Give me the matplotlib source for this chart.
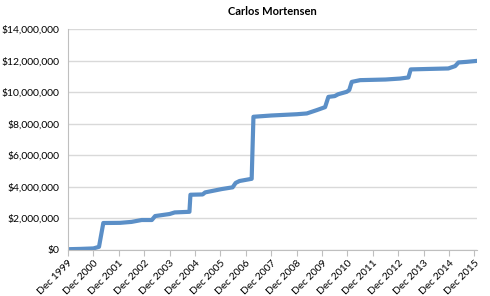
import matplotlib.pyplot as plt
from matplotlib.ticker import FuncFormatter

# years since Dec 1999, cumulative earnings in USD
years = [0.0, 0.5, 1.0, 1.22, 1.39, 2.05, 2.5, 2.9, 3.3, 3.43, 4.0, 4.2, 4.78,
         4.82, 5.3, 5.4, 6.05, 6.48, 6.6, 6.75, 7.23, 7.3, 8.0, 9.0, 9.4,
         9.79, 10.12, 10.25, 10.5, 10.64, 10.97, 11.07, 11.17, 11.5, 12.5,
         13.07, 13.4, 13.49, 14.2, 14.97, 15.24, 15.37, 15.7, 16.1]
earnings = [0.05e6, 0.07e6, 0.1e6, 0.2e6, 1.71e6, 1.72e6, 1.78e6, 1.9e6,
            1.9e6, 2.15e6, 2.28e6, 2.38e6, 2.42e6, 3.5e6, 3.52e6, 3.65e6,
            3.86e6, 3.97e6, 4.25e6, 4.37e6, 4.51e6, 8.44e6, 8.52e6, 8.6e6,
            8.65e6, 8.86e6, 9.05e6, 9.7e6, 9.75e6, 9.87e6, 10.02e6, 10.13e6,
            10.65e6, 10.76e6, 10.8e6, 10.86e6, 10.93e6, 11.44e6, 11.47e6,
            11.5e6, 11.65e6, 11.88e6, 11.92e6, 11.98e6]
tick_labels = [f"Dec {y}" for y in range(1999, 2016)]

plt.rcParams["font.family"] = ["Lato", "DejaVu Sans"]

fig = plt.figure(figsize=(4.9, 2.96), dpi=100)
ax = fig.add_axes([68 / 490, 46 / 296, 409 / 490, 221 / 296])

ax.plot(years, earnings, color="#5b8fc7", lw=3, solid_joinstyle="round")

ax.set_xlim(0, 16.1)
ax.set_ylim(0, 14e6)
ax.set_yticks([i * 2e6 for i in range(8)])
ax.yaxis.set_major_formatter(FuncFormatter(lambda v, p: f"${v:,.0f}"))
ax.set_xticks(range(len(tick_labels)))
ax.set_xticklabels(tick_labels, rotation=45, ha="right", rotation_mode="anchor")

ax.grid(axis="y", color="#d9d9d9", lw=1)
ax.set_axisbelow(True)
for s in ["top", "right"]:
    ax.spines[s].set_visible(False)
for s in ["left", "bottom"]:
    ax.spines[s].set_color("#bfbfbf")
ax.tick_params(axis="y", length=0, labelsize=7.5, pad=6)
ax.tick_params(axis="x", length=4, color="#bfbfbf", labelsize=7.5, pad=2)

ax.set_title("Carlos Mortensen", fontsize=8, fontweight="bold", pad=10)

fig.savefig("out.png", dpi=100)
